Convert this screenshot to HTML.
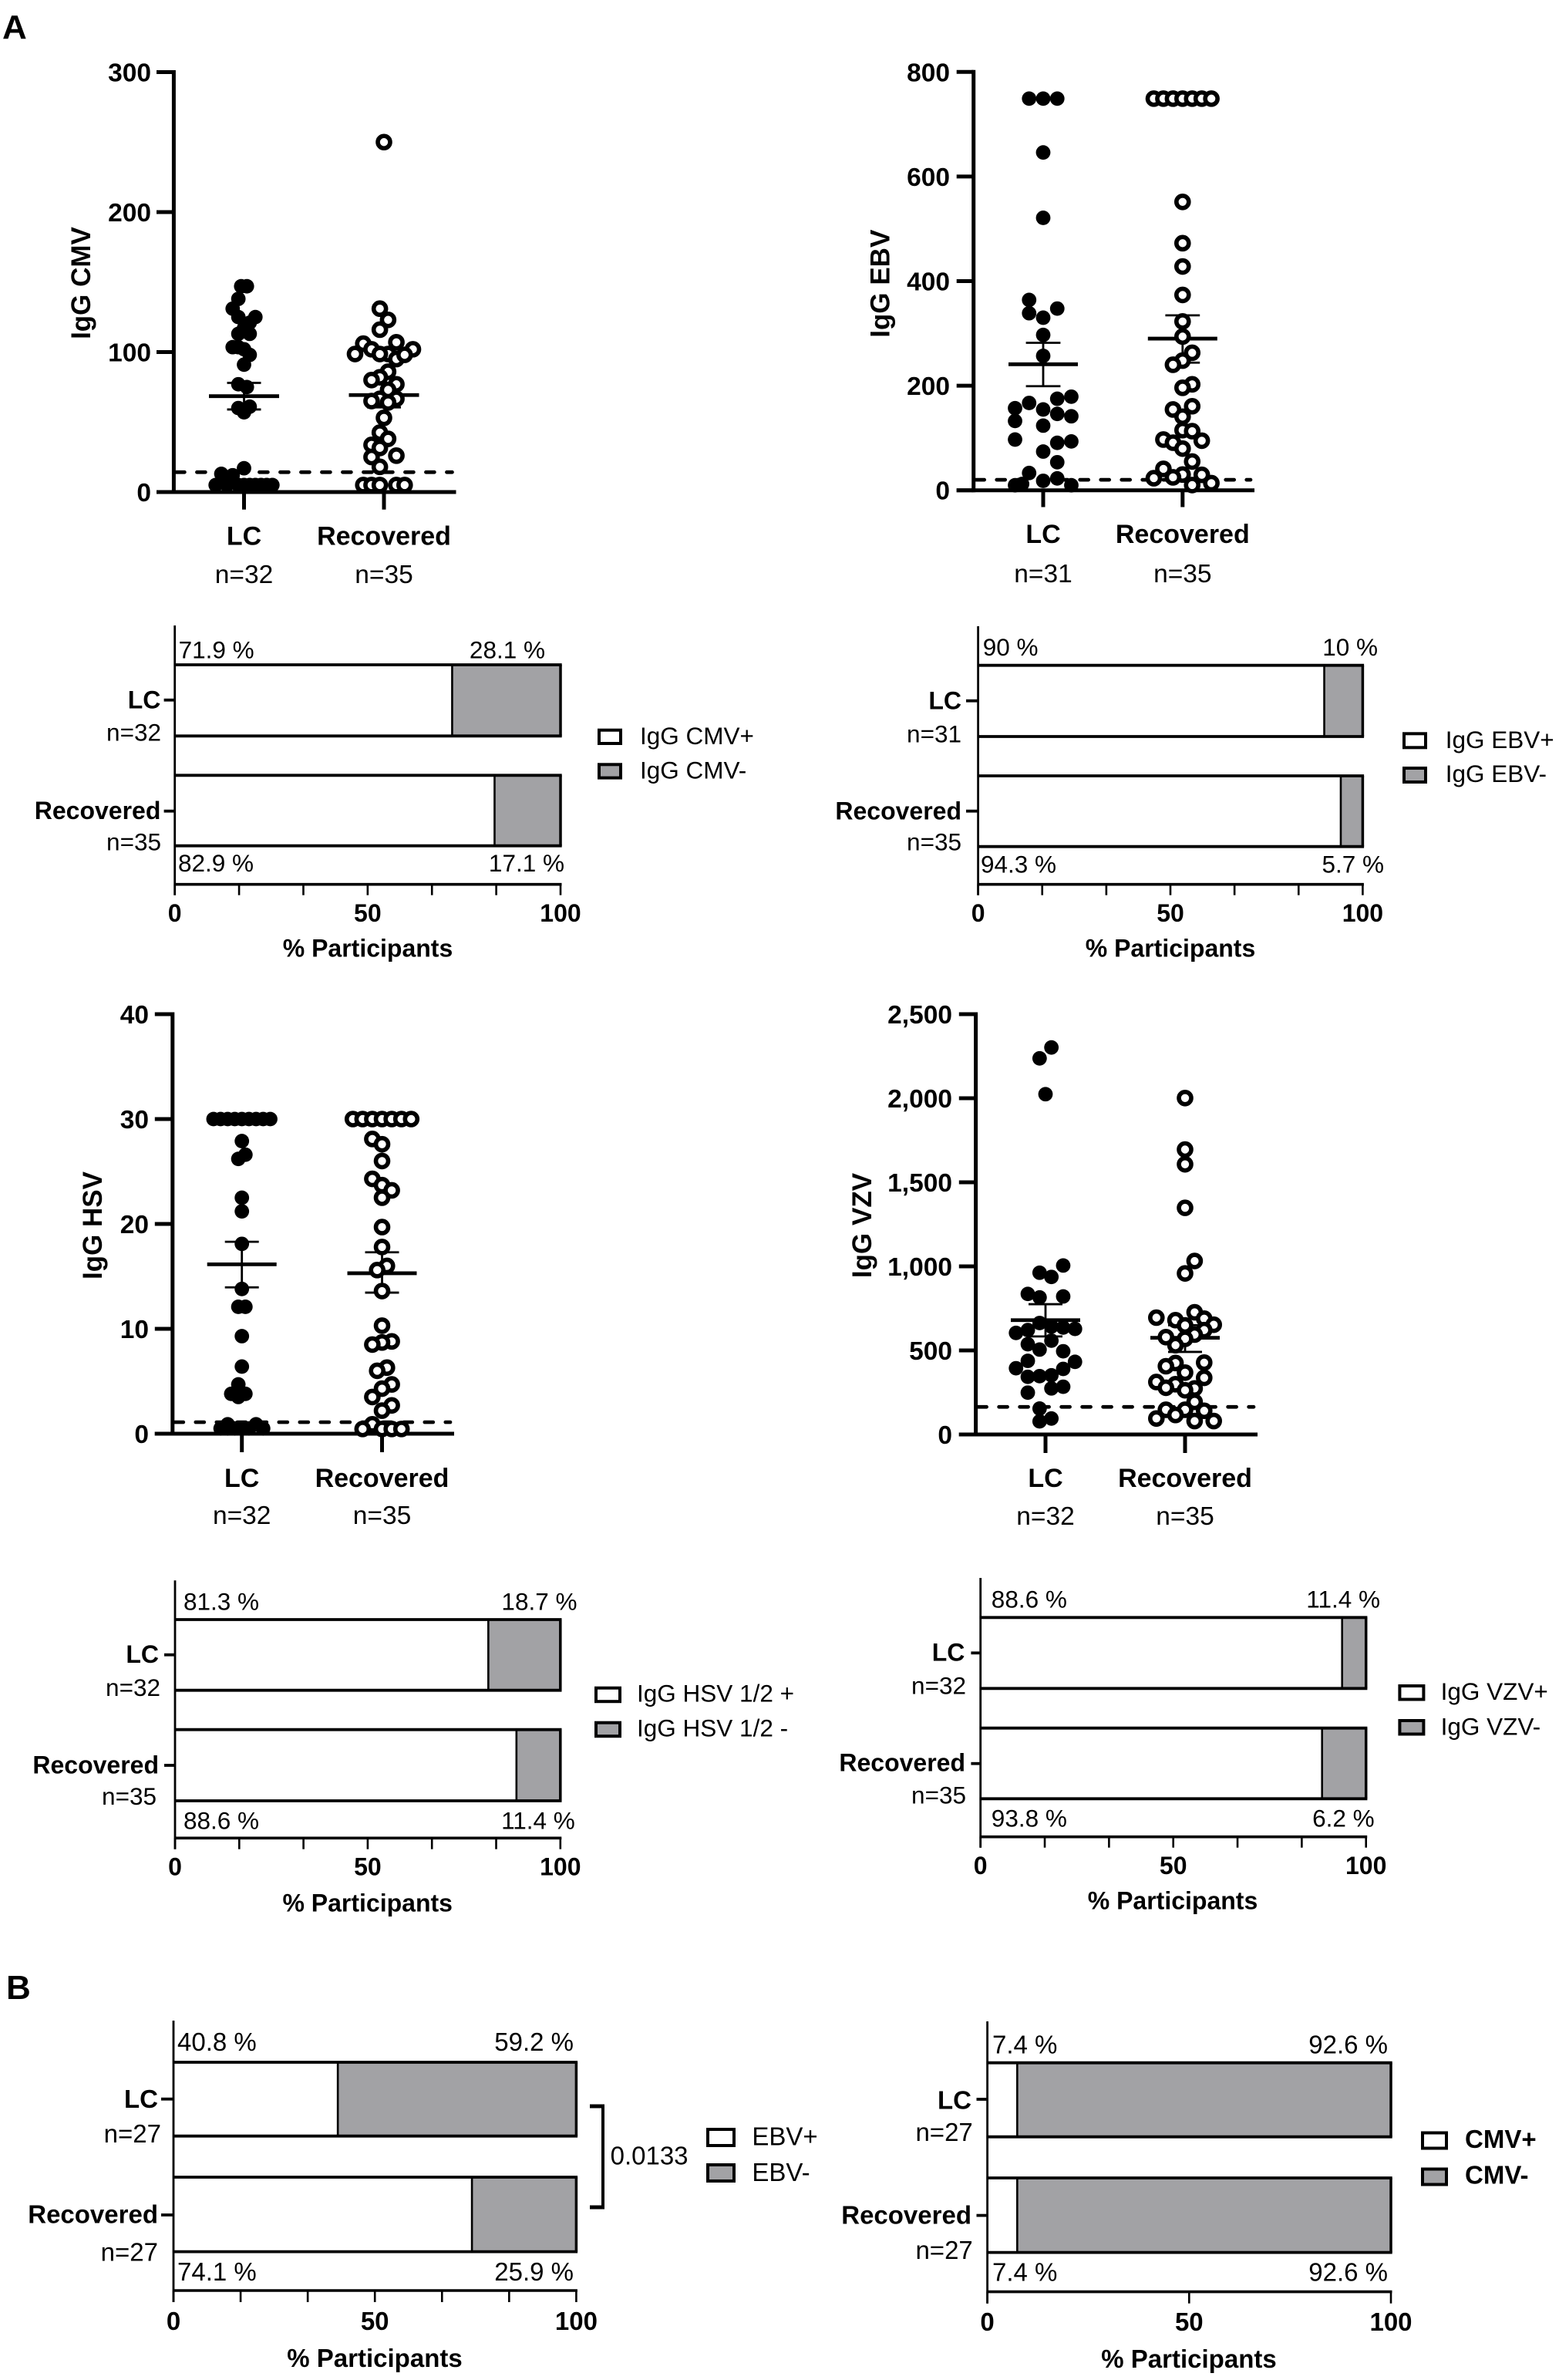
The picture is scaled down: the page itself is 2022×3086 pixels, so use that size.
<!DOCTYPE html>
<html lang="en">
<head>
<meta charset="utf-8">
<title>IgG titres and seropositivity: LC vs Recovered</title>
<style>
html,body{margin:0;padding:0;background:#fff;}
svg{display:block;font-family:"Liberation Sans",Arial,sans-serif;}
</style>
</head>
<body>
<svg id="figure" xmlns="http://www.w3.org/2000/svg" width="2022" height="3086" viewBox="0 0 2022 3086">
<rect x="0" y="0" width="2022" height="3086" fill="#ffffff"/>
<text x="3" y="50" font-size="44" font-weight="700" fill="#000">A</text>
<text x="8" y="2592" font-size="44" font-weight="700" fill="#000">B</text>
</svg>
<script>
/* ---------- shared categories ---------- */
const categories = ['LC', 'Recovered'];

/* ---------- IgG CMV scatter ---------- */
const cmvTicks = [0, 100, 200, 300];
const cmvCounts = [32, 35];
const cmvLcValues = [147,147,138,131,125,125,121,117,113,113,103.5,103.5,102,98,91,77,75,60,61,57,17,13,12,5,5,5,5,5,5,5,5,5];
const cmvLcLanes = [-1,1,-2,-4,-2,4,2,0,-2,2,-4,-2,0,2,0,-2,1,-2,2,0,0,-8,-4,-10,-6,-2,0,2,4,6,8,10];
const cmvRecValues = [250,131,123,116,106,107,102,102,98.6,98.6,98.6,95,98,86,82,80,77,73,66.6,65,66.6,64,53,42.5,38,33.7,31.5,25,26,18,5,5,5,5,5];
const cmvRecLanes = [0,-1,1,-1,-5,3,7,-3,-7,1,-1,3,5,1,-1,-3,3,1,-1,-3,3,1,0,-1,1,-3,-1,-3,3,-1,-5,-3,-1,3,5];
const cmvMeans = [68.5, 69.3];
const cmvSemUpper = [78, 77.5];
const cmvSemLower = [59, 60.5];
const cmvCutoff = [14.2];

/* ---------- IgG EBV scatter ---------- */
const ebvTicks = [0, 200, 400, 600, 800];
const ebvCounts = [31, 35];
const ebvLcValues = [749,749,749,646,521,364,347.5,338.6,330,297,257,179,175,167,157,154.5,146,141.5,132.5,123.6,97,93.4,90.7,74,53.6,33,22.7,18,9.6,9.6,12];
const ebvLcLanes = [-2,0,2,0,0,-2,2,-2,0,0,0,4,2,-2,-4,0,2,4,-4,0,-4,4,2,0,2,-2,2,0,-4,4,-3];
const ebvRecValues = [749,749,749,749,749,749,749,551.5,472.5,428,373.6,322.8,294,263,248,240,202.6,196,160.7,154.5,140.8,115,113,97,94.8,91,79.7,55,41,30,29.5,24.7,23,13.7,10];
const ebvRecLanes = [-3,-2,-1,0,1,2,3,0,0,0,0,0,0,1,0,-1,1,0,1,-1,0,0,1,-2,2,-1,0,1,-2,0,2,-1,-3,3,1];
const ebvMeans = [241, 290];
const ebvSemUpper = [282, 334.5];
const ebvSemLower = [199, 244];
const ebvCutoff = [20];

/* ---------- IgG HSV scatter ---------- */
const hsvTicks = [0, 10, 20, 30, 40];
const hsvCounts = [32, 35];
const hsvLcValues = [30,30,30,30,30,30,30,30,30,27.9,26.6,26.2,22.5,21.2,18.1,13.8,12.1,12.1,9.3,6.4,4.7,3.8,3.8,3.5,0.5,0.5,0.5,0.5,0.5,0.5,0.9,0.9];
const hsvLcLanes = [-8,-6,-4,-2,0,2,4,6,8,0,1,-1,0,0,0,0,-1,1,0,0,-1,-3,1,-1,-6,-4,-2,0,2,6,-4,4];
const hsvRecValues = [30,30,30,30,30,30,30,28.1,27.6,26,24.3,23.7,23.2,22.5,19.7,17.8,16,15.6,13.6,10.3,8.8,8.7,8.5,6.3,6,4.7,4.3,3.5,2.7,2.2,0.9,0.45,0.45,0.45,0.45];
const hsvRecLanes = [-6,-4,-2,0,2,4,6,-2,0,0,-2,0,2,0,0,0,1,-1,0,0,2,0,-2,1,-1,2,0,-2,2,0,-2,-4,0,2,4];
const hsvMeans = [16.15, 15.3];
const hsvSemUpper = [18.3, 17.3];
const hsvSemLower = [13.95, 13.45];
const hsvCutoff = [1.1];

/* ---------- IgG VZV scatter ---------- */
const vzvTicks = [0, 500, 1000, 1500, 2000, 2500];
const vzvCounts = [32, 35];
const vzvLcValues = [2302,2237,2024,1005,962,937,836,821,815,663,642,636,628,621,604,558,537,505,495,438,432,394,390,352,347,343,284,274,249,154,95,78];
const vzvLcLanes = [1,-1,0,3,-1,1,-3,3,-1,-1,1,3,5,-3,-5,1,-3,-1,3,-3,5,-5,3,1,-1,-3,3,1,-3,-1,1,-1];
const vzvRecValues = [2001,1695,1607,1348,1032,958,727,695,689,680,653,649,621,594,579,569,531,427.5,425,406,368,337,312,299,278,274,263,194,147,147,141,116,95,80,80];
const vzvRecLanes = [0,0,0,0,1,0,1,-3,2,-1,3,0,2,1,-2,0,-1,2,-1,-2,0,2,-3,-1,-2,1,0,1,-2,0,2,-1,-3,1,3];
const vzvMeans = [680, 575];
const vzvSemUpper = [775, 650];
const vzvSemLower = [583, 491];
const vzvCutoff = [164];

/* ---------- stacked bar values (percent positive) ---------- */
const percentTicks = [0, 50, 100];
const cmvBarPositive = [71.9, 82.9];
const cmvBarTopLabels = ['71.9 %', '28.1 %'];
const cmvBarBottomLabels = ['82.9 %', '17.1 %'];
const cmvBarCounts = [32, 35];
const cmvBarLegend = ['IgG CMV+', 'IgG CMV-'];

const ebvBarPositive = [90, 94.3];
const ebvBarTopLabels = ['90 %', '10 %'];
const ebvBarBottomLabels = ['94.3 %', '5.7 %'];
const ebvBarCounts = [31, 35];
const ebvBarLegend = ['IgG EBV+', 'IgG EBV-'];

const hsvBarPositive = [81.3, 88.6];
const hsvBarTopLabels = ['81.3 %', '18.7 %'];
const hsvBarBottomLabels = ['88.6 %', '11.4 %'];
const hsvBarCounts = [32, 35];
const hsvBarLegend = ['IgG HSV 1/2 +', 'IgG HSV 1/2 -'];

const vzvBarPositive = [93.8, 88.6];
const vzvBarTopLabels = ['88.6 %', '11.4 %'];
const vzvBarBottomLabels = ['93.8 %', '6.2 %'];
const vzvBarCounts = [32, 35];
const vzvBarLegend = ['IgG VZV+', 'IgG VZV-'];

const matchedEbvPositive = [40.8, 74.1];
const matchedEbvTopLabels = ['40.8 %', '59.2 %'];
const matchedEbvBottomLabels = ['74.1 %', '25.9 %'];
const matchedEbvCounts = [27, 27];
const matchedEbvLegend = ['EBV+', 'EBV-'];
const matchedEbvPValue = ['0.0133'];

const matchedCmvPositive = [7.4, 7.4];
const matchedCmvTopLabels = ['7.4 %', '92.6 %'];
const matchedCmvBottomLabels = ['7.4 %', '92.6 %'];
const matchedCmvCounts = [27, 27];
const matchedCmvLegend = ['CMV+', 'CMV-'];

/* ---------- drawing helpers ---------- */
const NS = 'http://www.w3.org/2000/svg';
const root = document.getElementById('figure');
const INK = '#000000';
const GREY = '#a2a2a5';

function make(parent, tag, attrs) {
  const node = document.createElementNS(NS, tag);
  for (const k in attrs) node.setAttribute(k, attrs[k]);
  parent.appendChild(node);
  return node;
}
function drawGroup(parent, name) {
  const g = make(parent, 'g', {});
  
  
  return g;
}
function drawLine(parent, x1, y1, x2, y2, w, name, dash) {
  const l = make(parent, 'line', {x1: x1, y1: y1, x2: x2, y2: y2, stroke: INK, 'stroke-width': w});
  if (dash) {
    l.setAttribute('stroke-dasharray', dash);
    l.setAttribute('stroke-linecap', 'round');
  }
  
  
  return l;
}
function drawText(parent, x, y, str, size, weight, anchor, name, rotate) {
  const t = make(parent, 'text', {x: x, y: y, 'font-size': size, 'font-weight': weight, 'text-anchor': anchor, fill: INK});
  if (rotate) t.setAttribute('transform', 'rotate(' + rotate + ' ' + x + ' ' + y + ')');
  t.textContent = str;
  
  
  return t;
}
function drawRect(parent, x, y, w, h, fill, name, stroke) {
  const r = make(parent, 'rect', {x: x, y: y, width: w, height: h, fill: fill});
  if (stroke) { r.setAttribute('stroke', INK); r.setAttribute('stroke-width', stroke); }
  
  
  return r;
}

/* ---------- scatter panel ---------- */
function scatterPanel(p) {
  const g = drawGroup(root, p.id + '-scatter');
  const maxV = p.ticks[p.ticks.length - 1];
  const yScale = v => p.y0 - (v / maxV) * (p.y0 - p.yTop);

  p.ticks.forEach(function (t) {
    drawLine(g, p.left, yScale(t), p.axisX, yScale(t), 5, p.id + '-y-tick-' + t);
    drawText(g, p.labelEnd, yScale(t) + 12, t.toLocaleString('en-US'), 33.5, 700, 'end', p.id + '-y-tick-label-' + t);
  });
  drawLine(g, p.axisX, p.yTop - 2.5, p.axisX, p.y0 + 2.5, 5, p.id + '-y-axis');
  drawLine(g, p.left, p.y0, p.right, p.y0, 5, p.id + '-x-axis');
  drawText(g, p.titleX, p.titleY, p.title, 35, 700, 'middle', p.id + '-y-axis-title', -90);

  drawLine(g, p.axisX + 3, yScale(p.cutoff[0]), p.right - 5, yScale(p.cutoff[0]), 4.7, p.id + '-cutoff-line', '11 16');

  categories.forEach(function (c, i) {
    const cx = p.cats[i];
    const key = c.toLowerCase();
    drawLine(g, cx, p.y0, cx, p.tickEnd, 5, p.id + '-x-tick-' + key);
    drawText(g, cx, p.catBase, c, 34, 700, 'middle', p.id + '-x-label-' + key);
    drawText(g, cx, p.nBase, 'n=' + p.counts[i], 33.5, 400, 'middle', p.id + '-count-label-' + key);

    drawLine(g, cx, yScale(p.upper[i]), cx, yScale(p.lower[i]), 2.8, p.id + '-sem-stem-' + key);
    drawLine(g, cx - p.cap, yScale(p.upper[i]), cx + p.cap, yScale(p.upper[i]), 2.8, p.id + '-sem-upper-' + key);
    drawLine(g, cx - p.cap, yScale(p.lower[i]), cx + p.cap, yScale(p.lower[i]), 2.8, p.id + '-sem-lower-' + key);
    drawLine(g, cx - p.meanHalf, yScale(p.means[i]), cx + p.meanHalf, yScale(p.means[i]), 4.8, p.id + '-mean-' + key);
  });

  categories.forEach(function (c, i) {
    const key = c.toLowerCase();
    const series = drawGroup(g, p.id + '-points-' + key);
    p.values[i].forEach(function (v, j) {
      const cx = p.cats[i] + p.laneStep[i] * p.lanes[i][j];
      let dot;
      if (i === 0) {
        dot = make(series, 'circle', {cx: cx, cy: yScale(v), r: 9.4, fill: INK});
      } else {
        dot = make(series, 'circle', {cx: cx, cy: yScale(v), r: 8, fill: '#ffffff', stroke: INK, 'stroke-width': 5.6});
      }
      
      
    });
  });
}

/* ---------- stacked bar panel ---------- */
function barPanel(p) {
  const g = drawGroup(root, p.id + '-stacked-bars');
  const xScale = v => p.x0 + (p.x100 - p.x0) * v / 100;
  const fs = p.fontSize;
  const fb = p.boldSize;

  p.bars.forEach(function (b, i) {
    const key = categories[i].toLowerCase();
    const split = xScale(p.positive[i]);
    drawRect(g, p.x0, b[0], split - p.x0, b[1] - b[0], '#ffffff', p.id + '-bar-positive-' + key);
    drawRect(g, split, b[0], p.x100 - split, b[1] - b[0], GREY, p.id + '-bar-negative-' + key);
    drawLine(g, split, b[0], split, b[1], 2.6, p.id + '-bar-divider-' + key);
    drawLine(g, p.x0, b[0], p.x100 + 1.7, b[0], 3.8, p.id + '-bar-top-edge-' + key);
    drawLine(g, p.x0, b[1], p.x100 + 1.7, b[1], 3.8, p.id + '-bar-bottom-edge-' + key);
    drawLine(g, p.x100, b[0], p.x100, b[1], 3.5, p.id + '-bar-right-edge-' + key);
    drawLine(g, p.yTickStart, p.yTicks[i], p.x0, p.yTicks[i], 3.8, p.id + '-y-tick-' + key);
    drawText(g, p.catEnd[i], p.catBase[i], categories[i], fb, 700, 'end', p.id + '-y-label-' + key);
    drawText(g, p.nEnd[i], p.nBase[i], 'n=' + p.counts[i], fs, 400, 'end', p.id + '-count-label-' + key);
  });

  drawLine(g, p.x0, p.top, p.x0, p.tickEnd, 2.8, p.id + '-y-axis');
  drawLine(g, p.x0, p.axisY, p.x100 + 1.5, p.axisY, 3.6, p.id + '-x-axis');

  const minorCount = p.minor ? 6 : 2;
  for (let k = 0; k <= minorCount; k++) {
    const tx = xScale(100 * k / minorCount);
    drawLine(g, tx, p.axisY, tx, p.tickEnd, 2.6, p.id + '-x-tick-' + k);
  }
  percentTicks.forEach(function (t) {
    drawText(g, xScale(t), p.tickBase, String(t), fb, 700, 'middle', p.id + '-x-tick-label-' + t);
  });
  drawText(g, p.titleX, p.titleBase, '% Participants', fb, 700, 'middle', p.id + '-x-axis-title');

  drawText(g, p.pctLeft[0], p.pctBase[0], p.topLabels[0], fs, 400, 'start', p.id + '-percent-top-positive');
  drawText(g, p.pctRight[0], p.pctBase[0], p.topLabels[1], fs, 400, 'end', p.id + '-percent-top-negative');
  drawText(g, p.pctLeft[1], p.pctBase[1], p.bottomLabels[0], fs, 400, 'start', p.id + '-percent-bottom-positive');
  drawText(g, p.pctRight[1], p.pctBase[1], p.bottomLabels[1], fs, 400, 'end', p.id + '-percent-bottom-negative');

  const lg = drawGroup(g, p.id + '-legend');
  const fills = ['#ffffff', GREY];
  const suffix = ['positive', 'negative'];
  [0, 1].forEach(function (i) {
    const s = p.swatch;
    drawRect(lg, s.x, s.y[i], s.w, s.h, fills[i], p.id + '-legend-swatch-' + suffix[i], 4);
    drawText(lg, s.textX, s.textBase[i], p.legend[i], p.legendWeight === 700 ? fb : fs, p.legendWeight, 'start', p.id + '-legend-label-' + suffix[i]);
  });
}

/* ---------- panels ---------- */
scatterPanel({id: 'igg-cmv', title: 'IgG CMV', ticks: cmvTicks, counts: cmvCounts,
  values: [cmvLcValues, cmvRecValues], lanes: [cmvLcLanes, cmvRecLanes], laneStep: [3.68, 5.36],
  means: cmvMeans, upper: cmvSemUpper, lower: cmvSemLower, cutoff: cmvCutoff,
  axisX: 225.4, y0: 638, yTop: 93.5, left: 203, right: 591.5, cats: [316.5, 498], tickEnd: 660.7,
  catBase: 706.5, nBase: 756, labelEnd: 196, titleX: 117, titleY: 367, meanHalf: 45.5, cap: 22});

scatterPanel({id: 'igg-ebv', title: 'IgG EBV', ticks: ebvTicks, counts: ebvCounts,
  values: [ebvLcValues, ebvRecValues], lanes: [ebvLcLanes, ebvRecLanes], laneStep: [9.12, 12.44],
  means: ebvMeans, upper: ebvSemUpper, lower: ebvSemLower, cutoff: ebvCutoff,
  axisX: 1262.7, y0: 635.7, yTop: 93.3, left: 1240.7, right: 1627, cats: [1353, 1533.8], tickEnd: 657.5,
  catBase: 704, nBase: 755, labelEnd: 1232, titleX: 1153.6, titleY: 367.7, meanHalf: 45, cap: 22.4});

scatterPanel({id: 'igg-hsv', title: 'IgG HSV', ticks: hsvTicks, counts: hsvCounts,
  values: [hsvLcValues, hsvRecValues], lanes: [hsvLcLanes, hsvRecLanes], laneStep: [4.6, 6.3],
  means: hsvMeans, upper: hsvSemUpper, lower: hsvSemLower, cutoff: hsvCutoff,
  axisX: 223.8, y0: 1859, yTop: 1315, left: 200.8, right: 589, cats: [313.7, 495.5], tickEnd: 1883,
  catBase: 1928, nBase: 1976, labelEnd: 193, titleX: 132, titleY: 1589, meanHalf: 45, cap: 22});

scatterPanel({id: 'igg-vzv', title: 'IgG VZV', ticks: vzvTicks, counts: vzvCounts,
  values: [vzvLcValues, vzvRecValues], lanes: [vzvLcLanes, vzvRecLanes], laneStep: [7.65, 12.4],
  means: vzvMeans, upper: vzvSemUpper, lower: vzvSemLower, cutoff: vzvCutoff,
  axisX: 1265.6, y0: 1860, yTop: 1315, left: 1243.8, right: 1631, cats: [1356, 1537], tickEnd: 1884,
  catBase: 1928, nBase: 1977, labelEnd: 1235, titleX: 1129.8, titleY: 1589, meanHalf: 45, cap: 22});

barPanel({id: 'cmv-serostatus', positive: cmvBarPositive, counts: cmvBarCounts, topLabels: cmvBarTopLabels, bottomLabels: cmvBarBottomLabels, legend: cmvBarLegend,
  legendWeight: 400, fontSize: 31.5, boldSize: 32, minor: true,
  x0: 226.7, x100: 727, top: 811, axisY: 1146.7, tickEnd: 1160.7, bars: [[862, 954.3], [1005.3, 1096.7]],
  yTickStart: 212.6, yTicks: [907.7, 1051.7], catEnd: [208.4, 208.4], catBase: [918.3, 1062], nEnd: [209, 209], nBase: [960.7, 1102.7],
  pctLeft: [231.6, 231], pctRight: [707, 732], pctBase: [853.3, 1130], tickBase: 1195, titleX: 477, titleBase: 1240.7,
  swatch: {x: 777, w: 28, h: 17.3, y: [946.7, 991.3], textX: 830, textBase: [965, 1009.3]}});

barPanel({id: 'ebv-serostatus', positive: ebvBarPositive, counts: ebvBarCounts, topLabels: ebvBarTopLabels, bottomLabels: ebvBarBottomLabels, legend: ebvBarLegend,
  legendWeight: 400, fontSize: 31.5, boldSize: 32, minor: true,
  x0: 1268.6, x100: 1767.4, top: 812, axisY: 1146.7, tickEnd: 1160.7, bars: [[862.7, 955], [1006, 1097.7]],
  yTickStart: 1253, yTicks: [908.7, 1051.7], catEnd: [1247, 1247], catBase: [919.3, 1062.7], nEnd: [1247, 1247], nBase: [962.3, 1102.7],
  pctLeft: [1274.7, 1272], pctRight: [1787, 1795], pctBase: [850, 1131.7], tickBase: 1195, titleX: 1518, titleBase: 1240.7,
  swatch: {x: 1821, w: 28, h: 18, y: [951.3, 996], textX: 1874.7, textBase: [970, 1014]}});

barPanel({id: 'hsv-serostatus', positive: hsvBarPositive, counts: hsvBarCounts, topLabels: hsvBarTopLabels, bottomLabels: hsvBarBottomLabels, legend: hsvBarLegend,
  legendWeight: 400, fontSize: 31.5, boldSize: 32, minor: true,
  x0: 227, x100: 726.8, top: 2049.3, axisY: 2383.3, tickEnd: 2397.7, bars: [[2100, 2191.7], [2242.7, 2335]],
  yTickStart: 213, yTicks: [2145.7, 2289], catEnd: [206, 206], catBase: [2156, 2299.3], nEnd: [208, 203], nBase: [2199, 2340],
  pctLeft: [238, 238], pctRight: [748.5, 745.8], pctBase: [2087.3, 2371.7], tickBase: 2431.7, titleX: 476.7, titleBase: 2478.3,
  swatch: {x: 773, w: 31, h: 17.5, y: [2188.7, 2233.7], textX: 826, textBase: [2206.7, 2251.7]}});

barPanel({id: 'vzv-serostatus', positive: vzvBarPositive, counts: vzvBarCounts, topLabels: vzvBarTopLabels, bottomLabels: vzvBarBottomLabels, legend: vzvBarLegend,
  legendWeight: 400, fontSize: 31.5, boldSize: 32, minor: true,
  x0: 1271.7, x100: 1771.7, top: 2046, axisY: 2381.7, tickEnd: 2395.7, bars: [[2097.3, 2189.3], [2240.7, 2332.3]],
  yTickStart: 1259.4, yTicks: [2143.3, 2286.7], catEnd: [1251.4, 1252], catBase: [2153.3, 2296.7], nEnd: [1253, 1253], nBase: [2196.7, 2338.3],
  pctLeft: [1285.8, 1285.8], pctRight: [1790, 1782.7], pctBase: [2084.3, 2368.3], tickBase: 2430, titleX: 1521, titleBase: 2475.7,
  swatch: {x: 1815.4, w: 31, h: 17.5, y: [2186, 2231], textX: 1868.6, textBase: [2204, 2249.3]}});

barPanel({id: 'matched-ebv', positive: matchedEbvPositive, counts: matchedEbvCounts, topLabels: matchedEbvTopLabels, bottomLabels: matchedEbvBottomLabels, legend: matchedEbvLegend,
  legendWeight: 400, fontSize: 33, boldSize: 33, minor: true,
  x0: 225, x100: 747.4, top: 2620, axisY: 2970, tickEnd: 2985, bars: [[2674, 2769.7], [2823, 2919.6]],
  yTickStart: 209, yTicks: [2721.7, 2872], catEnd: [205, 205], catBase: [2732.8, 2882.7], nEnd: [209, 205], nBase: [2778, 2931.7],
  pctLeft: [230, 230], pctRight: [744, 744], pctBase: [2659, 2957], tickBase: 3021, titleX: 486, titleBase: 3069,
  swatch: {x: 918, w: 34, h: 21, y: [2761, 2807], textX: 975.4, textBase: [2781.4, 2828]}});

barPanel({id: 'matched-cmv', positive: matchedCmvPositive, counts: matchedCmvCounts, topLabels: matchedCmvTopLabels, bottomLabels: matchedCmvBottomLabels, legend: matchedCmvLegend,
  legendWeight: 700, fontSize: 33, boldSize: 33, minor: false,
  x0: 1280.6, x100: 1804, top: 2621, axisY: 2971.6, tickEnd: 2986.7, bars: [[2674.7, 2770.7], [2824, 2920.6]],
  yTickStart: 1266.5, yTicks: [2722, 2872.6], catEnd: [1260, 1260], catBase: [2734.4, 2883.7], nEnd: [1261.8, 1261.8], nBase: [2776, 2929],
  pctLeft: [1287, 1287], pctRight: [1800, 1800], pctBase: [2662.3, 2957.5], tickBase: 3022, titleX: 1542, titleBase: 3070,
  swatch: {x: 1845, w: 31, h: 20, y: [2765.5, 2812.5], textX: 1900, textBase: [2784.8, 2831.7]}});

/* ---------- significance bracket on matched EBV panel ---------- */
const bracket = drawGroup(root, 'significance-bracket');
drawLine(bracket, 765, 2731, 784, 2731, 5, 'bracket-top-arm');
drawLine(bracket, 782, 2729, 782, 2864, 4, 'bracket-spine');
drawLine(bracket, 765, 2862, 784, 2862, 5, 'bracket-bottom-arm');
drawText(bracket, 791.6, 2806.6, matchedEbvPValue[0], 33, 400, 'start', 'p-value-label');
</script>
</body>
</html>
